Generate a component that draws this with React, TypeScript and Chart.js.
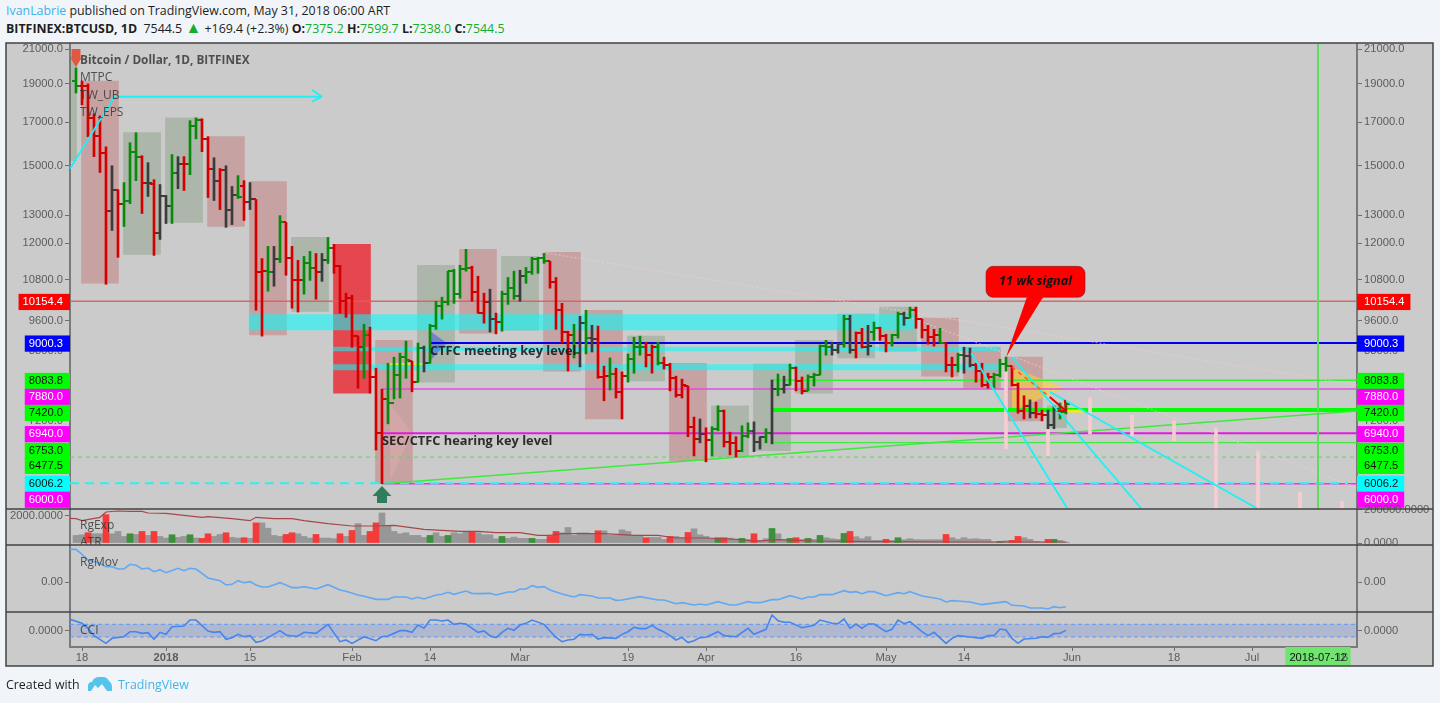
import { useEffect, useRef } from "react";
import { Chart, registerables } from "chart.js";

Chart.register(...registerables);

// ---------- daily bars (first bar is day -1; day 0 = 18 Dec 2017) ----------
const barOpen = [
  19150,18880,18880,17220,16350,15580,13150,14000,13450,13570,
  15620,15400,14290,14250,12340,13730,13340,14670,15090,15090,
  16830,17130,16210,14880,14370,14830,13220,13770,14170,13530,
  13610,11030,11070,11030,11450,12740,11490,10780,10780,11350,
  11160,11030,11420,11820,11230,10150,10240,9180,8890,9210,
  8160,6940,7660,7570,8210,8640,8540,8040,8870,8490,
  9450,10010,10120,11070,10360,11130,11160,10420,9810,10120,
  9640,9560,10360,10540,10300,10910,11030,11450,11490,11390,
  10720,9890,9290,9210,8740,9530,9130,9100,8160,8180,
  8230,7820,8180,8590,8890,8890,8690,8890,8490,8450,
  8130,7750,7950,7070,6830,6930,6810,7030,7400,6770,
  6750,6600,6890,6990,6770,6870,6940,7880,7880,7970,
  8370,8070,7840,8160,8210,8920,8890,8820,8970,9640,
  8820,9260,8890,9290,9390,9180,9000,9210,9780,9670,
  9890,9640,9340,9150,9210,9000,8450,8450,8690,8670,
  8450,8300,7970,8160,8210,8470,8420,7970,7400,7510,
  7350,7330,7310,7110,7440,7375.2,
];
const barHigh = [
  19880,19150,18990,17420,17320,15840,15000,14000,14290,16030,
  16500,15440,15135,14410,14210,13770,15490,15400,15400,17080,
  17220,17170,16310,15350,14880,15000,14130,14580,14370,14290,
  13610,11480,11890,11890,12990,12740,11890,11420,11550,11720,
  11650,11650,12200,11960,11260,10390,10330,9180,9500,9420,
  8370,7880,8490,8640,8740,9050,8540,9000,8920,9500,
  10150,10270,11070,11130,11260,11790,11230,10910,10390,10510,
  9810,10450,10870,11070,11100,11190,11520,11520,11650,11390,
  10870,10090,9310,9500,9720,9890,9470,9450,8420,8620,
  8370,8280,8720,9150,9180,9020,8950,9020,8640,8490,
  8180,8110,7950,7270,7230,7050,7070,7510,7420,6960,
  6870,7090,7150,7170,6870,7030,8090,8230,8180,8470,
  8400,8160,8210,8250,8950,9070,9020,9000,9750,9750,
  9290,9390,9470,9560,9420,9230,9230,9840,9840,9980,
  9980,9640,9470,9360,9390,9000,8640,8740,8890,8870,
  8490,8490,8250,8250,8590,8640,8420,8020,7730,7640,
  7590,7420,7420,7510,7570,7599.7,
];
const barLow = [
  18500,17880,16310,15400,14710,10660,12450,11520,12590,13450,
  14370,13070,13730,11585,12130,12700,12700,14040,13970,14620,
  16210,15620,13690,13570,13220,12560,12660,13650,12810,13220,
  9890,9180,10450,10600,11350,10940,9950,9840,10360,10780,
  10210,10750,11320,11000,9810,9690,8890,7900,8130,7790,
  6610,6000,7130,7660,7680,8130,7820,8040,8280,8490,
  9360,9640,10040,10090,10240,11070,10150,9810,9530,9290,
  9240,9310,10060,10210,10150,10690,10970,11000,11320,10540,
  9360,9000,8300,8620,8400,8720,8770,8130,7620,7860,
  7680,7230,8040,8250,8690,8400,8250,8450,8350,7840,
  7700,7680,6870,6500,6750,6390,6500,6990,6670,6520,
  6480,6580,6850,6580,6630,6750,6730,7730,7790,7970,
  7840,7770,7840,7950,8210,8690,8690,8740,8890,8740,
  8620,8870,8690,9070,9070,8770,8920,9130,9470,9670,
  9390,9130,8970,8920,9000,8280,8160,8280,8250,8400,
  8040,7930,7900,7900,8160,8300,7950,7350,7230,7250,
  7250,7190,7030,7030,7230,7338,
];
const barClose = [
  18880,18880,17220,16350,15580,13150,14000,13450,13570,15620,
  15400,14290,14290,12340,13730,13340,14670,15090,15090,16830,
  17130,16210,14880,14370,14830,13220,13770,13690,13530,13610,
  11030,11070,11030,11450,12740,11490,10780,10780,11350,11160,
  11030,11420,11820,11230,10150,10240,9180,8890,9210,8160,
  6940,7660,7570,8210,8640,8570,8040,8870,8490,9450,
  10010,10120,11070,10360,11130,11160,10420,9810,10120,9640,
  9560,10360,10540,10300,10910,11030,11450,11490,11390,10720,
  9890,9290,9210,8740,9530,9130,9100,8160,8180,8230,
  7820,8180,8590,8890,8890,8690,8890,8490,8450,8130,
  7750,7970,7070,6830,6930,6810,7030,7400,6770,6750,
  6600,6890,6990,6770,6870,6940,7880,7880,7970,8370,
  8070,7840,8160,8210,8920,8890,8820,8970,9640,8820,
  9260,8890,8920,9390,9180,9000,9210,9780,9670,9890,
  9640,9340,9150,9210,9000,8450,8450,8690,8670,8450,
  8300,7970,8160,8210,8470,8420,7970,7400,7510,7350,
  7330,7310,7110,7440,7375,7544.5,
];
const barTones = (
  "g" + "rrrrr" + "k" + "r" + "ggg" + "r" + "k" + "r" + "kk" + "g" + "k" + "r" + "gg" + "rr" + "k" + "r" + "kk" + "g" + "r" + "k" +
  "rr" + "g" + "k" + "g" + "rrr" + "gg" + "r" + "k" + "g" + "rrrrr" + "g" + "rrr" + "gggg" + "r" + "g" + "k" + "ggggggg" +
  "rrr" + "k" + "r" + "ggg" + "k" + "gggg" + "rrrr" + "g" + "k" + "g" + "k" + "rr" + "g" + "rr" + "ggg" + "rr" + "g" +
  "rrrrrr" + "k" + "r" + "gg" + "rrr" + "gg" + "kk" + "g" + "k" + "g" + "k" + "g" + "rr" + "gggg" + "kk" + "g" + "k" + "rr" + "k" +
  "g" + "rr" + "gg" + "k" + "g" + "rrrr" + "g" + "rr" + "g" + "kk" + "rrr" + "ggg" + "rrr" + "k" + "rr" + "kk" + "gg"
).split("");

// ---------- weekly blocks ----------
const weekCenters = [-4,3,10,17,24,31,38,45,52,59,66,73,80,87,94,101,108,115,122,129,136,143,150,157];
const weekHigh = [20580,19150,16500,17220,16310,14330,12200,11960,9070,11260,11790,11550,11690,9890,9180,8490,7510,8470,9070,9780,9980,9670,8890,8640];
const weekLow = [15220,10690,11620,12740,12590,9210,9860,7790,6000,8040,9260,9340,8300,7230,8070,6410,6480,6600,7790,8620,8790,8180,7900,7190];
const weekTones = ["g","r","g","g","r","r","g","R","r","g","r","g","r","r","g","r","g","g","g","g","g","r","r","r"];
const currentWeek = { day: 162.5, high: 7510, low: 7050 };

// ---------- pale projected bars ----------
const paleDays = [154,161,168,175,182,189,196,203,210];
const paleHigh = [8420,7025,7680,7310,7190,7045,6580,5860,5700];
const paleLow = [6635,6500,6925,6885,6790,5500,5500,5500,5500];

// ---------- horizontal levels ----------
const levelPrices = [10154.4,9000.3,8083.8,7880,7420,6940,6753,6477.5,6006.2,6000];
const levelStartDays = [-2,58,115,50,115,50,115,-2,-2,50];
const levelEndDays = [213,213,213,213,213,213,213,213,211,213];
const bandPrices = [9555,8843,8395];
const bandStartDays = [27.8,41.8,41.8];
const bandEndDays = [138.8,153,153];

// ---------- drawn trend lines: [day, price, day, price] ----------
const greenTrend = [50,6000,212.5,7400];
const cyanLines = [
  [-2,14875,5.5,18350],
  [5.8,18300,40,18300],
  [38.3,18667,40,18300],
  [38.3,18037,40,18300],
  [148.2,8740,164.2,5590],
  [155,8640,176.5,5590],
  [161.3,7820,195.8,5590],
];
const paleDottedLines = [
  [76.8,11687,212.5,7973],
  [135.8,9835,212.5,5930],
];
const orangeDash = [155,8395,161.3,7705];
const redArrow = [
  [161.3,7705,164,7399],
  [162.6,7400,164,7399],
  [163.8,7640,164,7399],
];
const yellowStubs = [
  [51,8470,57,8470],
  [163.5,7399,167,7399],
];
const signalDay = 206;

// triangles: base edge and tip
const triangles = [
  { base: 155, top: 8395, bottom: 7399, tipDay: 163.8, tip: 7905 },
  { base: 58, top: 9317, bottom: 8545, tipDay: 60.8, tip: 9000 },
  { base: 51.3, top: 7572, bottom: 6047, tipDay: 55, tip: 6946 },
];

// ---------- volume pane ----------
const volumeK = [
  46,50,62,56,56,172,56,70,40,56, 52,70,46,70,40,30,50,34,40,50,
  30,28,56,40,52,62,34,30,32,28, 122,122,90,46,40,52,62,56,40,30,
  52,30,30,26,56,40,76,118,46,70, 122,182,106,70,56,62,46,46,34,46,
  62,40,46,62,56,66,70,62,50,50, 26,40,28,36,28,28,28,22,22,40,
  70,62,94,46,62,62,56,74,74,46, 46,80,70,46,44,32,34,34,22,40,
  40,34,64,86,50,40,26,32,32,30, 22,28,22,56,16,26,88,56,22,28,
  32,22,28,22,46,32,26,22,58,70, 38,26,38,16,16,22,16,32,20,26,
  20,20,20,20,20,52,32,22,32,24, 26,22,22,6,10,14,16,40,32,22,
  10,6,22,22,16,6,
];
const volumeRedBars = [2,5,11,13,21,22,25,28,30,35,36,40,44,46,49,50,66,79,80,87,95,99,102,108,113,120,129,135,145,156,157,162];
const volumeGreenBars = [9,16,19,59,62,71,76,107,111,116,119,122,124,128,137,154,163];
const atrPoints = [
  [-2,1830],[-1,1803],[0,1655],[3,1902],[4,2297],[6,2371],[8,2346],[10,2346],[11,2223],[14,2198],[17,2050],[20,1902],[21,1951],
  [25,1803],[28,1655],[29,1902],[32,1803],[35,1803],[37,1655],[41,1433],[45,1260],[49,1260],[52,1309],[57,1013],[63,865],[66,865],
  [69,766],[73,766],[76,568],[78,568],[80,692],[87,692],[92,568],[96,568],[99,370],[104,370],[110,247],[112,123],[116,247],[122,148],
  [127,123],[146,74],[164,74],
];

// ---------- RgMov pane ----------
const rgMovPoints = [
  [-2,98],[-1,98],[0,83],[1,66],[3,56],[4,46],[5,46],[6,39],[7,39],[8,53],[9,50],[10,39],[11,42],[12,31],[13,37],[14,28],
  [16,41],[17,34],[18,41],[19,39],[20,26],[21,12],[23,4],[24,-9],[25,-7],[26,4],[27,-2],[28,1],[29,-9],[30,-15],[31,-15],
  [33,-2],[34,-9],[35,-17],[36,-17],[37,-14],[39,-21],[41,-8],[43,-24],[44,-28],[46,-39],[47,-43],[49,-52],[51,-52],[52,-45],
  [54,-45],[55,-51],[56,-46],[57,-51],[59,-39],[60,-37],[61,-31],[62,-37],[64,-27],[65,-34],[66,-35],[68,-34],[69,-39],[71,-30],
  [72,-30],[73,-21],[74,-21],[75,-11],[76,-16],[77,-14],[78,-24],[80,-36],[82,-45],[83,-38],[85,-42],[86,-48],[88,-48],[89,-55],
  [90,-54],[93,-44],[96,-54],[97,-54],[99,-65],[100,-62],[102,-69],[103,-66],[104,-69],[106,-59],[108,-69],[109,-69],[111,-59],
  [112,-62],[113,-62],[115,-53],[116,-53],[118,-41],[120,-51],[121,-45],[122,-45],[123,-38],[125,-38],[127,-26],[128,-31],[129,-29],
  [130,-35],[131,-29],[132,-29],[134,-41],[136,-32],[137,-35],[138,-29],[140,-42],[143,-51],[144,-60],[145,-56],[146,-57],[148,-60],
  [150,-68],[154,-59],[155,-70],[157,-72],[158,-78],[160,-78],[161,-81],[162,-74],[163,-77],[164,-74],
];

// ---------- CCI pane ----------
const cciPoints = [
  [-2,179],[0,116],[1,37],[2,-79],[4,-200],[5,-121],[7,-95],[8,-16],[9,-16],[10,-42],[11,-32],[12,-137],[13,-26],[14,-58],[15,63],
  [17,74],[18,168],[19,168],[21,-5],[22,-26],[23,-16],[24,-137],[25,-110],[26,-58],[27,-95],[28,-79],[29,-184],[30,-163],[31,-110],
  [33,0],[34,-68],[35,-84],[36,-84],[37,-26],[39,-42],[41,100],[43,-174],[44,-147],[45,-200],[47,-95],[49,-158],[50,-95],[51,-84],
  [53,0],[54,0],[55,-26],[56,89],[57,37],[58,168],[59,168],[60,153],[61,168],[62,100],[63,116],[64,105],[66,-26],[67,-5],[68,-79],
  [69,-110],[70,-26],[71,37],[72,5],[73,89],[74,116],[75,168],[77,100],[78,-5],[79,-105],[80,-174],[81,-147],[82,-137],[83,-58],
  [84,-68],[85,-58],[86,-132],[87,-110],[89,-121],[90,-58],[91,-16],[92,53],[93,32],[94,32],[95,84],[96,21],[97,-21],[98,-79],
  [99,-147],[100,-105],[101,-189],[102,-158],[103,-110],[104,-105],[106,-16],[107,-79],[109,-95],[111,37],[112,-58],[114,21],[115,247],
  [116,158],[117,132],[118,132],[120,47],[122,84],[123,168],[125,116],[126,110],[127,184],[128,37],[129,105],[130,37],[131,105],
  [132,105],[134,-16],[135,21],[136,168],[137,110],[138,142],[140,-16],[141,-79],[142,-26],[144,-200],[145,-121],[146,-79],[148,-100],
  [150,-121],[151,-79],[152,-79],[153,26],[154,11],[155,-121],[156,-200],[157,-132],[159,-121],[160,-95],[161,-105],[162,-47],[163,-42],[164,5],
];
const cciBandLevels = [100,-100];

// ---------- axes ----------
const xTickDays = [0,14,28,45,58,73,91,104,119,134,147,165,182,195,206,210];
const xTickLabels = ["18","2018","15","Feb","14","Mar","19","Apr","16","May","14","Jun","18","Jul","2018-07-12","16"];
const priceTicks = [21000,19000,17000,15000,13000,12000,10800,9600,8800,7200];
const priceTagLabels = ["10154.4","9000.3","8083.8","7880.0","7420.0","6940.0","6753.0","6477.5","6006.2","6000.0"];
const priceTagAnchors = [10130,8985,8067,7705,7357,6920,6594,6316,5999,5729];
const priceTagFill = ["#ff0000","#0000ff","#00ff00","#ff00ff","#00ff00","#ff00ff","#00ff00","#00ff00","#00ffff","#ff00ff"];
const priceTagInk = ["#fff","#fff","#111","#fff","#111","#fff","#111","#111","#111","#fff"];

// ---------- text on the chart ----------
const legendNotes = [
  { text: "Bitcoin / Dollar, 1D, BITFINEX", day: -0.33, value: 20292, axis: "y", bold: true },
  { text: "MTPC", day: -0.33, value: 19320, axis: "y" },
  { text: "TW_UB", day: -0.33, value: 18350, axis: "y" },
  { text: "TW_EPS", day: -0.33, value: 17470, axis: "y" },
  { text: "RgExp", day: -0.33, value: 103, axis: "yVol" },
  { text: "ATR", day: -0.33, value: 0, axis: "yVol" },
  { text: "RgMov", day: -0.33, value: 57, axis: "yMov" },
  { text: "CCI", day: -0.33, value: 0, axis: "yCci" },
];
const levelNotes = [
  { text: "CTFC meeting key level", day: 58, price: 8795 },
  { text: "SEC/CTFC hearing key level", day: 50, price: 6788 },
];
const callout = { text: "11 wk signal", dayL: 150.67, dayR: 167.17, top: 11225, bottom: 10268, tipDay: 154, tip: 8640, baseL: 157.5, baseR: 160.2 };
const sellMarker = { day: -1, tip: 19940, tail: 21000 };
const buyMarker = { day: 50, tip: 5960, tail: 5677 };

// ---------- helpers ----------
const TONE: Record<string, string> = { g: "#0a8a0a", r: "#d40000", k: "#3c3c3c" };
const tickCache: Record<string, HTMLCanvasElement> = {};
function tickImage(tone: string, side: "open" | "close") {
  const key = tone + side;
  if (!tickCache[key]) {
    const c = document.createElement("canvas");
    c.width = 8;
    c.height = 2;
    const g = c.getContext("2d")!;
    g.fillStyle = TONE[tone];
    g.fillRect(side === "open" ? 0 : 4, 0, 4, 2);
    tickCache[key] = c;
  }
  return tickCache[key];
}

function seg(a: number[], color: string, width: number, order: number, dash: number[] = [], yAxisID = "y") {
  return {
    type: "line",
    data: [{ x: a[0], y: a[1] }, { x: a[2], y: a[3] }],
    borderColor: color,
    borderWidth: width,
    borderDash: dash,
    pointRadius: 0,
    tension: 0,
    fill: false,
    clip: 0,
    order,
    xAxisID: "x",
    yAxisID,
  };
}

function floatBars(days: number[], hi: number[], lo: number[], color: any, thick: number, order: number) {
  return {
    type: "bar",
    data: days.map((d, i) => ({ x: d, y: [lo[i], hi[i]] })),
    backgroundColor: color,
    borderWidth: 0,
    barThickness: thick,
    grouped: false,
    order,
    xAxisID: "x",
    yAxisID: "y",
  };
}

const AXIS_INK = "#5c5c5c";
const AXIS_FONT = { family: "'Liberation Sans', Arial, sans-serif", size: 11.2 };

function paneAxis(opts: any) {
  const { position, stack, weight, stackWeight, width, ticks, label, ...rest } = opts;
  return {
    position,
    stack,
    weight,
    stackWeight,
    afterFit: (s: any) => { s.width = width; },
    afterBuildTicks: (s: any) => { s.ticks = ticks.map((v: number) => ({ value: v })); },
    grid: { drawOnChartArea: false, drawTicks: true, tickLength: 5, tickColor: "#6e6e6e", tickWidth: 1 },
    border: { color: "#7a7a7a", width: 2 },
    ticks: {
      autoSkip: false,
      padding: 2,
      color: AXIS_INK,
      font: AXIS_FONT,
      callback: label,
    },
    ...rest,
  };
}

function priceAxis(position: "left" | "right", weight: number, width: number) {
  const values = [...priceTicks, ...priceTagAnchors];
  const tag = (v: number) => priceTagAnchors.indexOf(v);
  const base: any = paneAxis({
    type: "logarithmic",
    min: 5578,
    max: 21305,
    position,
    stack: position,
    weight,
    stackWeight: 465,
    width,
    ticks: values,
    label: (v: number) => (tag(v) >= 0 ? priceTagLabels[tag(v)] : Number(v).toFixed(1)),
  });
  base.ticks.color = (c: any) => (c.tick && tag(c.tick.value) >= 0 ? priceTagInk[tag(c.tick.value)] : AXIS_INK);
  base.ticks.showLabelBackdrop = (c: any) => !!c.tick && tag(c.tick.value) >= 0;
  base.ticks.backdropColor = (c: any) => (c.tick && tag(c.tick.value) >= 0 ? priceTagFill[tag(c.tick.value)] : "transparent");
  base.ticks.backdropPadding = position === "left"
    ? { left: 4, right: 7, top: 1.4, bottom: 1.4 }
    : { left: 7, right: 6, top: 1.4, bottom: 1.4 };
  return base;
}

const overlay = {
  id: "overlay",
  beforeDraw(c: any) {
    const g = c.ctx;
    const { y, yR, x } = c.scales;
    g.save();
    g.fillStyle = "#cbcbcb";
    g.fillRect(y.left, y.top - 1, yR.right - y.left, x.bottom - y.top + 1);
    g.restore();
  },
  afterDatasetsDraw(c: any) {
    const g = c.ctx;
    const { x, y } = c.scales;
    g.save();
    g.textBaseline = "middle";
    g.textAlign = "left";

    // level captions
    g.font = "bold 12.8px 'Open Sans', sans-serif";
    g.fillStyle = "rgba(25,25,25,.9)";
    for (const n of levelNotes) g.fillText(n.text, x.getPixelForValue(n.day), y.getPixelForValue(n.price));

    // pane legends
    for (const n of legendNotes) {
      const s = c.scales[n.axis];
      g.save();
      g.beginPath();
      g.rect(c.chartArea.left, s.top, c.chartArea.width, s.bottom - s.top);
      g.clip();
      g.font = `${n.bold ? "bold 11.8px" : "12px"} 'Open Sans', sans-serif`;
      g.fillStyle = "rgba(50,50,50,.82)";
      g.fillText(n.text, x.getPixelForValue(n.day), s.getPixelForValue(n.value));
      g.restore();
    }

    // markers
    const arrow = (m: { day: number; tip: number; tail: number }, half: number, shaft: number, head: number, color: string) => {
      const cx = x.getPixelForValue(m.day);
      const t = y.getPixelForValue(m.tip);
      const e = y.getPixelForValue(m.tail);
      const dir = e > t ? 1 : -1;
      g.fillStyle = color;
      g.beginPath();
      g.moveTo(cx, t);
      g.lineTo(cx + half, t + dir * head);
      g.lineTo(cx + shaft, t + dir * head);
      g.lineTo(cx + shaft, e);
      g.lineTo(cx - shaft, e);
      g.lineTo(cx - shaft, t + dir * head);
      g.lineTo(cx - half, t + dir * head);
      g.closePath();
      g.fill();
    };
    arrow(buyMarker, 9.5, 5, 10, "#2f7d5c");
    arrow(sellMarker, 5.5, 4.5, 9, "#e2573f");

    // callout
    const L = x.getPixelForValue(callout.dayL);
    const R = x.getPixelForValue(callout.dayR);
    const T = y.getPixelForValue(callout.top);
    const B = y.getPixelForValue(callout.bottom);
    g.beginPath();
    g.roundRect(L, T, R - L, B - T, 7);
    g.moveTo(x.getPixelForValue(callout.baseL), B - 0.5);
    g.lineTo(x.getPixelForValue(callout.tipDay), y.getPixelForValue(callout.tip));
    g.lineTo(x.getPixelForValue(callout.baseR), B - 0.5);
    g.closePath();
    g.fillStyle = "#ff0000";
    g.fill();
    g.strokeStyle = "rgba(120,30,30,.55)";
    g.lineWidth = 1;
    g.beginPath();
    g.roundRect(L, T, R - L, B - T, 7);
    g.stroke();
    g.fillStyle = "#ff0000";
    g.fillRect(x.getPixelForValue(callout.baseL) + 0.5, B - 1.5, x.getPixelForValue(callout.baseR) - x.getPixelForValue(callout.baseL) - 1, 3);
    g.fillStyle = "#111";
    g.font = "italic bold 12.6px 'Open Sans', sans-serif";
    g.textAlign = "center";
    g.fillText(callout.text, (L + R) / 2, (T + B) / 2);
    g.restore();
  },
  afterDraw(c: any) {
    const g = c.ctx;
    const { y, yVol, yMov, yR, x } = c.scales;
    const l = y.left, r = yR.right, t = y.top - 1, b = x.bottom;
    g.save();
    g.strokeStyle = "#434343";
    g.lineWidth = 1.5;
    g.strokeRect(l, t, r - l, b - t);
    for (const s of [y, yVol, yMov]) {
      g.beginPath();
      g.moveTo(l, s.bottom);
      g.lineTo(r, s.bottom);
      g.stroke();
    }
    g.restore();
  },
};

function buildDatasets() {
  const barDays = barOpen.map((_, i) => i - 1);
  const toneColor = barTones.map((t) => TONE[t]);
  const pick = (tone: string) => weekCenters.map((_, i) => i).filter((i) => weekTones[i] === tone);
  const weekSet = (tone: string, color: string) => {
    const idx = pick(tone);
    return floatBars(idx.map((i) => weekCenters[i]), idx.map((i) => weekHigh[i]), idx.map((i) => weekLow[i]), color, 37, 100);
  };
  const volDataset = (idx: number[], color: string, order: number) => ({
    type: "bar",
    data: idx.map((i) => ({ x: barDays[i], y: volumeK[i] })),
    backgroundColor: color,
    borderWidth: 0,
    barThickness: 6,
    grouped: false,
    order,
    xAxisID: "x",
    yAxisID: "yVol",
  });
  const volIdx = volumeK.map((_, i) => i);
  const ds: any[] = [];

  ds.push(weekSet("g", "rgba(80,120,70,.25)"));
  ds.push(weekSet("r", "rgba(190,70,70,.3)"));
  ds.push(weekSet("R", "rgba(240,20,30,.72)"));
  ds.push(floatBars([currentWeek.day], [currentWeek.high], [currentWeek.low], "rgba(80,120,70,.25)", 19, 100));

  // bands
  bandPrices.forEach((p, i) => {
    ds.push(seg([bandStartDays[i], p, bandEndDays[i], p], "rgba(0,255,255,.55)", [16, 4.5, 6][i], 95));
  });

  // triangles (two edges, filled between)
  const triColor = ["rgba(255,215,40,.55)", "rgba(70,90,220,.55)", "rgba(255,185,185,.25)"];
  triangles.forEach((t, i) => {
    const upper: any = seg([t.base, t.top, t.tipDay, t.tip], "transparent", 0, 90);
    upper.fill = "+1";
    upper.backgroundColor = triColor[i];
    ds.push(upper);
    ds.push(seg([t.base, t.bottom, t.tipDay, t.tip], "transparent", 0, 90));
  });

  // levels
  const levelStyle = [
    ["rgba(222,92,92,.9)", 1.5, []],
    ["#0000ee", 2, []],
    ["#33f033", 1.5, []],
    ["#e04ce0", 1.5, []],
    ["#00ff00", 4, []],
    ["#e01ae0", 2, []],
    ["#44e844", 1.2, []],
    ["#44e844", 1, [4, 4]],
    ["#22f5f5", 2, [9, 6]],
    ["#ee33ee", 1.5, []],
  ] as [string, number, number[]][];
  levelPrices.forEach((p, i) => {
    const s = levelStyle[i];
    ds.push(seg([levelStartDays[i], p, levelEndDays[i], p], s[0], s[1], 60 - (i === 8 ? 1 : 0), s[2]));
  });

  ds.push(seg(greenTrend, "#3fe83f", 1.5, 55));
  paleDottedLines.forEach((l) => ds.push(seg(l, "rgba(250,205,205,.55)", 1.3, 58, [2, 2])));
  yellowStubs.forEach((l, i) => ds.push(seg(l, "#eef000", i === 0 ? 1.5 : 3, 50)));
  ds.push(seg([signalDay, 5578, signalDay, 21305], "#58e058", 2, 56));

  // pale projected bars
  ds.push(floatBars(paleDays, paleHigh, paleLow, "#f6cdd0", 3, 30));

  // OHLC: wick, open tick, close tick
  ds.push(floatBars(barDays, barHigh, barLow, toneColor, 2, 20));
  ds.push({
    type: "line",
    data: barDays.map((d, i) => ({ x: d, y: barOpen[i] })),
    showLine: false,
    pointRadius: 4,
    pointStyle: (c: any) => tickImage(barTones[c.dataIndex] || "k", "open"),
    order: 19,
    xAxisID: "x",
    yAxisID: "y",
  });
  ds.push({
    type: "line",
    data: barDays.map((d, i) => ({ x: d, y: barClose[i] })),
    showLine: false,
    pointRadius: 4,
    pointStyle: (c: any) => tickImage(barTones[c.dataIndex] || "k", "close"),
    order: 18,
    xAxisID: "x",
    yAxisID: "y",
  });

  // drawings above the bars
  cyanLines.forEach((l) => ds.push(seg(l, "#1ff0f5", 1.8, 10)));
  ds.push(seg(orangeDash, "#ff5a1e", 1.5, 9, [4, 4]));
  redArrow.forEach((l) => ds.push(seg(l, "#e00000", 2, 8)));

  // volume
  ds.push(volDataset(volIdx.filter((i) => !volumeRedBars.includes(i) && !volumeGreenBars.includes(i)), "#979797", 12));
  ds.push(volDataset(volumeRedBars, "#f53a3a", 11));
  ds.push(volDataset(volumeGreenBars, "#3c903c", 11));
  ds.push({
    type: "line",
    data: atrPoints.map((p) => ({ x: p[0], y: p[1] })),
    borderColor: "#a8474a",
    borderWidth: 1.2,
    pointRadius: 0,
    tension: 0,
    order: 5,
    xAxisID: "x",
    yAxisID: "yAtr",
  });

  // RgMov
  ds.push({
    type: "line",
    data: rgMovPoints.map((p) => ({ x: p[0], y: p[1] })),
    borderColor: "#62a8f2",
    borderWidth: 1.6,
    pointRadius: 0,
    tension: 0,
    order: 5,
    xAxisID: "x",
    yAxisID: "yMov",
  });

  // CCI
  const bandUpper: any = seg([-2, cciBandLevels[0], 213, cciBandLevels[0]], "#6d9eeb", 1.2, 7, [4, 3], "yCci");
  bandUpper.fill = "+1";
  bandUpper.backgroundColor = "rgba(70,110,225,.2)";
  ds.push(bandUpper);
  ds.push(seg([-2, cciBandLevels[1], 213, cciBandLevels[1]], "#6d9eeb", 1.2, 7, [4, 3], "yCci"));
  ds.push({
    type: "line",
    data: cciPoints.map((p) => ({ x: p[0], y: p[1] })),
    borderColor: "#4585ee",
    borderWidth: 1.6,
    pointRadius: 0,
    tension: 0,
    order: 5,
    xAxisID: "x",
    yAxisID: "yCci",
  });
  return ds;
}

const fixed = (digits: number, scale = 1) => (v: number) => (Number(v) * scale).toFixed(digits);

export default function App() {
  const ref = useRef<HTMLCanvasElement>(null);

  useEffect(() => {
    const chart = new Chart(ref.current as HTMLCanvasElement, {
      type: "bar",
      data: { datasets: buildDatasets() },
      plugins: [overlay],
      options: {
        responsive: false,
        animation: false,
        layout: { padding: { left: 6, right: 7, top: 44, bottom: 37 } },
        plugins: { legend: { display: false }, tooltip: { enabled: false }, title: { display: false } },
        scales: {
          x: {
            type: "linear",
            offset: false,
            min: -2,
            max: 212.5,
            afterFit: (s: any) => { s.height = 19; },
            afterBuildTicks: (s: any) => { s.ticks = xTickDays.map((v) => ({ value: v })); },
            grid: { offset: false, drawOnChartArea: false, drawTicks: true, tickLength: 4, tickColor: "#6e6e6e" },
            border: { color: "#7a7a7a", width: 2 },
            ticks: {
              autoSkip: false,
              maxRotation: 0,
              padding: 0,
              color: (c: any) => (c.tick && c.tick.value === signalDay ? "#111" : AXIS_INK),
              font: (c: any) => ({ ...AXIS_FONT, weight: c.tick && c.tick.value === 14 ? "bold" : "normal" }),
              callback: (v: any) => xTickLabels[xTickDays.indexOf(Number(v))],
              showLabelBackdrop: (c: any) => !!c.tick && c.tick.value === signalDay,
              backdropColor: "#6fe46f",
              backdropPadding: { left: 4, right: 4, top: 4, bottom: 3 },
            },
          },
          y: priceAxis("left", 40, 64),
          yAtr: paneAxis({ type: "linear", min: -148, max: 2518, position: "left", stack: "left", weight: 30, stackWeight: 36, width: 64, ticks: [2000], label: fixed(4) }),
          yMovL: paneAxis({ type: "linear", min: -90, max: 111, position: "left", stack: "left", weight: 20, stackWeight: 67, width: 64, ticks: [0], label: fixed(2) }),
          yCciL: paneAxis({ type: "linear", min: -258, max: 295, position: "left", stack: "left", weight: 10, stackWeight: 35, width: 64, ticks: [0], label: fixed(4) }),
          yR: priceAxis("right", 10, 76),
          yVol: paneAxis({ type: "linear", min: -12, max: 206, position: "right", stack: "right", weight: 20, stackWeight: 36, width: 76, ticks: [200, 0], label: fixed(4, 1000) }),
          yMov: paneAxis({ type: "linear", min: -90, max: 111, position: "right", stack: "right", weight: 30, stackWeight: 67, width: 76, ticks: [0], label: fixed(2) }),
          yCci: paneAxis({ type: "linear", min: -258, max: 295, position: "right", stack: "right", weight: 40, stackWeight: 35, width: 76, ticks: [0], label: fixed(4) }),
        },
      } as any,
    } as any);
    return () => chart.destroy();
  }, []);

  const green = { color: "#12ad2b" };
  const head: React.CSSProperties = { position: "absolute", left: 6, whiteSpace: "pre", fontFamily: "'Open Sans', sans-serif", fontSize: 12.4, color: "#1e1e1e", lineHeight: "18px" };
  return (
    <div style={{ position: "relative", width: 1440, height: 703, overflow: "hidden", background: "#f1f5f9" }}>
      <style>{"html,body{margin:0;padding:0;background:#f1f5f9;overflow:hidden}"}</style>
      <div style={{ ...head, top: 2 }}>
        <span style={{ color: "#3fb1e8" }}>IvanLabrie</span> published on TradingView.com, May 31, 2018 06:00 ART
      </div>
      <div style={{ ...head, top: 20 }}>
        <b>BITFINEX:BTCUSD, 1D</b>  7544.5 <span style={{ ...green, fontSize: 16, lineHeight: 0 }}>▲</span> +169.4 (+2.3%) <b>O:</b><span style={green}>7375.2</span> <b>H:</b><span style={green}>7599.7</span> <b>L:</b><span style={green}>7338.0</span> <b>C:</b><span style={green}>7544.5</span>
      </div>
      <canvas ref={ref} width={1440} height={703} style={{ position: "absolute", left: 0, top: 0, width: 1440, height: 703, display: "block" }} />
      <div style={{ ...head, top: 676 }}>Created with</div>
      <svg width="26" height="16" viewBox="0 0 26 16" style={{ position: "absolute", left: 87, top: 676 }}>
        <path d="M1 15 L1 10 Q1 6 5 6 Q7 1 12 1 L16 1 Q20 1 22 5 Q25 7 25 11 L25 15 L20 15 L15 8 L11 12 L8 9 L4 15 Z" fill="#55c4ea" />
      </svg>
      <div style={{ ...head, top: 676, left: 118, color: "#45b5e6" }}>TradingView</div>
    </div>
  );
}
